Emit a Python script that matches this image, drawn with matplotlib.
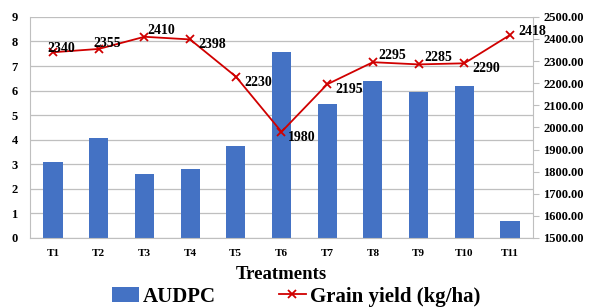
import matplotlib.pyplot as plt
from matplotlib.ticker import FormatStrFormatter

plt.rcParams['font.family'] = ['Liberation Serif', 'DejaVu Serif']
plt.rcParams['font.weight'] = 'bold'

treatments = ["T1", "T2", "T3", "T4", "T5", "T6", "T7", "T8", "T9", "T10", "T11"]
audpc = [3.1, 4.07, 2.62, 2.82, 3.75, 7.56, 5.45, 6.38, 5.93, 6.18, 0.7]
grain_yield = [2340, 2355, 2410, 2398, 2230, 1980, 2195, 2295, 2285, 2290, 2418]

# label offsets in points (style only)
offsets = [(-4, -2), (-4, -1), (2, 0), (6, -4), (6, -4), (5, -4),
           (6, -4), (4, 0), (4, 0), (6, -4), (6, -2)]

fig = plt.figure(figsize=(5.92, 3.07), dpi=100)
ax = fig.add_axes([0.051, 0.225, 0.849, 0.72])
ax2 = ax.twinx()

x = range(len(treatments))
bars = ax.bar(x, audpc, width=0.42, color='#4472C4', zorder=2, label='AUDPC')
ax.set_ylim(0, 9)
ax.set_yticks(range(0, 10))
ax.set_xlim(-0.5, len(treatments) - 0.5)
ax.set_xticks(list(x))
ax.set_xticklabels(treatments, fontsize=8, fontweight='bold')
ax.tick_params(axis='y', labelsize=9, length=0, pad=9)
ax.tick_params(axis='x', length=0, pad=8)
ax.grid(axis='y', color='#bfbfbf', linewidth=0.9, zorder=0)
ax.set_axisbelow(True)
for s in ['top', 'right']:
    ax.spines[s].set_visible(False)
ax.spines['left'].set_color('#bfbfbf')
ax.spines['bottom'].set_color('#bfbfbf')
ax.set_xlabel("Treatments", fontsize=13.5, fontweight='bold', labelpad=6)

line, = ax2.plot(x, grain_yield, color='#D00000', marker='x', markersize=6,
                 markeredgewidth=1.3, linewidth=1.3, label='Grain yield (kg/ha)')
ax2.set_ylim(1500, 2500)
ax2.set_yticks(range(1500, 2501, 100))
ax2.yaxis.set_major_formatter(FormatStrFormatter('%.2f'))
ax2.tick_params(axis='y', labelsize=9, length=4, color='#bfbfbf')
for s in ['top', 'left', 'bottom']:
    ax2.spines[s].set_visible(False)
ax2.spines['right'].set_color('#bfbfbf')

for i, v in enumerate(grain_yield):
    ax2.annotate(str(v), (i, v), xytext=offsets[i], textcoords='offset points',
                 fontsize=10, fontweight='bold', ha='left', va='bottom' if offsets[i][1] >= 0 or offsets[i][1] > -3 else 'center')

fig.legend([bars, line], ['AUDPC', 'Grain yield (kg/ha)'], loc='lower center',
           bbox_to_anchor=(0.5, -0.06), ncol=2, frameon=False,
           prop={'size': 15, 'weight': 'bold', 'family': 'Liberation Serif'},
           handlelength=1.3, columnspacing=3.0, handletextpad=0.2)

fig.savefig("out.png", dpi=100)
